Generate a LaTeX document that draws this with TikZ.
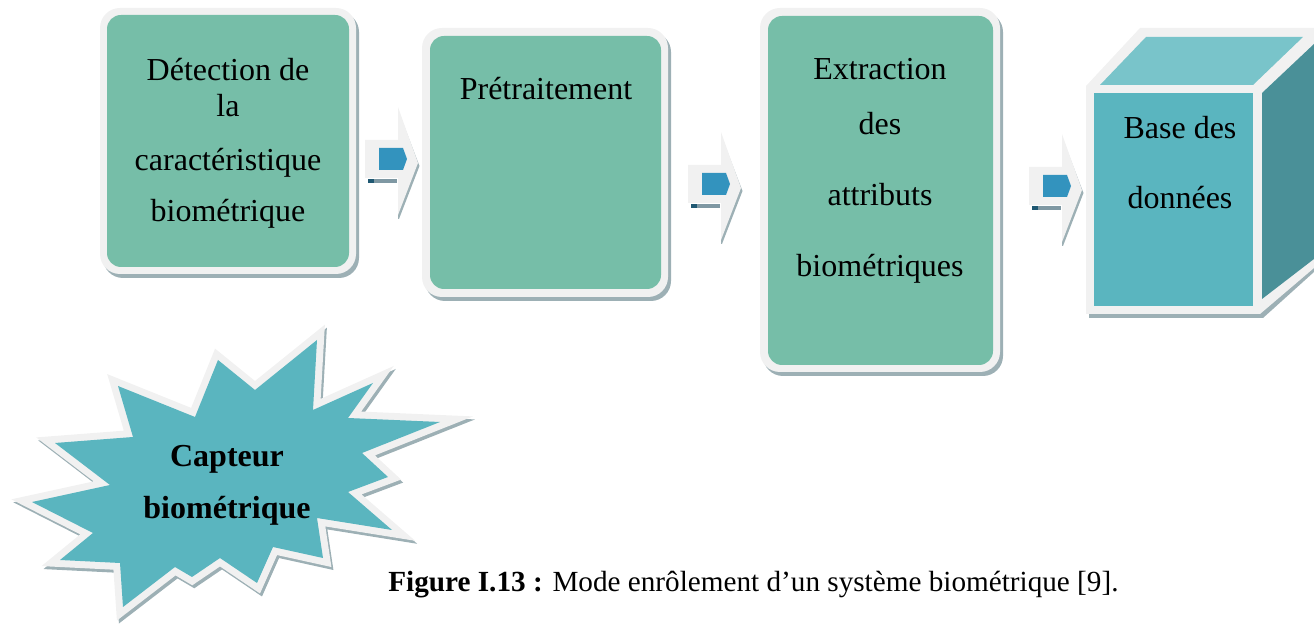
\documentclass[tikz,border=0pt]{standalone}
\usepackage{fontspec}
\setmainfont{Liberation Serif}
\usetikzlibrary{shadows}
\definecolor{boxgreen}{HTML}{76BEA8}
\definecolor{framegray}{HTML}{F1F1F1}
\definecolor{shadowgray}{HTML}{9DB0B5}
\definecolor{tealfill}{HTML}{5AB5BF}
\definecolor{tealtop}{HTML}{79C4CA}
\definecolor{tealside}{HTML}{4A9098}
\definecolor{arrowblue}{HTML}{3393BE}
\definecolor{barcol}{HTML}{7F98A3}
\begin{document}
\begin{tikzpicture}[x=0.5pt,y=-0.5pt,
  frame/.style={fill=framegray, inner sep=0, rounded corners=10pt,
    drop shadow={shadow xshift=1.5pt, shadow yshift=-2pt, fill=shadowgray, opacity=1}},
  inside/.style={fill=boxgreen, inner sep=0, rounded corners=7pt},
  lbl/.style={anchor=base, inner sep=0, font=\fontsize{16}{19}\selectfont},
  blbl/.style={lbl, font=\fontsize{16}{19}\selectfont\bfseries},
  blockarrow/.pic={
    \fill[shadowgray] (-20,-53) -- (1.5,3) -- (-19,56) -- (-20,56) -- cycle;
    \fill[framegray] (-53,-23) -- (-20,-23) -- (-20,-56) -- (0,0) -- (-20,52)
      -- (-20,15) -- (-53,15) -- cycle;
    \fill[barcol] (-50,16) rectangle (-21,20);
    \fill[arrowblue!60!black] (-50,16) rectangle (-44,20);
    \fill[arrowblue] (-39,-15) -- (-15,-15) -- (-11,-4) -- (-15,7) -- (-39,7) -- cycle;
  }]
\useasboundingbox (0,0) rectangle (1314,624);

% processing stages
\node[frame, minimum width=128pt, minimum height=133pt] (s1) at (228,141) {};
\node[inside, minimum width=121pt, minimum height=126pt] (s1in) at (228,141) {};
\node[frame, minimum width=123pt, minimum height=134.5pt] (s2) at (545,162.5) {};
\node[inside, minimum width=115.5pt, minimum height=126.5pt] (s2in) at (545.5,162.5) {};
\node[frame, minimum width=120pt, minimum height=182pt] (s3) at (880,190) {};
\node[inside, minimum width=112.5pt, minimum height=174.5pt] (s3in) at (880.5,190.5) {};

\node[lbl] (t1a) at (228,81) {Détection de};
\node[lbl] (t1b) at (228,117) {la};
\node[lbl] (t1c) at (228,171) {caractéristique};
\node[lbl] (t1d) at (228,222) {biométrique};
\node[lbl] (t2a) at (546,100) {Prétraitement};
\node[lbl] (t3a) at (880,80) {Extraction};
\node[lbl] (t3b) at (880,135) {des};
\node[lbl] (t3c) at (880,206) {attributs};
\node[lbl] (t3d) at (880,277) {biométriques};

% database cube
\fill[shadowgray] (1089,90) -- (1143,32) -- (1314,32) -- (1314,272) -- (1263,318) -- (1089,318) -- cycle;
\fill[framegray] (1086,86) -- (1140,28) -- (1314,28) -- (1314,268) -- (1260,314) -- (1086,314) -- cycle;
\node[fill=tealfill, inner sep=0, minimum width=79.5pt, minimum height=106.5pt] (db) at (1173.5,199.5) {};
\fill[tealtop] (1100,85) -- (1253,85) -- (1303,37) -- (1146,37) -- cycle;
\fill[tealside] (1262,93) -- (1314,44) -- (1314,259) -- (1262,299) -- cycle;
\node[lbl] (t4a) at (1180,139) {Base des};
\node[lbl] (t4b) at (1180,209) {données};

% arrows between stages
\pic (a1) at (418,163) {blockarrow};
\pic (a2) at (741,188) {blockarrow};
\pic (a3) at (1082,190) {blockarrow};

% sensor burst
\def\burst{(118,386) -- (195,417) -- (218,360) -- (255,390) -- (317,340) -- (313,410)
  -- (373,383) -- (348,418) -- (440,422) -- (362,453) -- (388,477) -- (348,492)
  -- (392,530) -- (317,518) -- (323,558) -- (273,547) -- (257,583) -- (220,558)
  -- (192,577) -- (175,567) -- (123,607) -- (120,563) -- (60,560) -- (93,533)
  -- (32,502) -- (110,485) -- (55,443) -- (133,437) -- cycle}
\begin{scope}[line join=miter, miter limit=10]
  \draw[shadowgray, line width=7pt, shift={(2,3)}] \burst;
  \draw[framegray, line width=7pt] \burst;
  \fill[tealfill] \burst;
\end{scope}
\node[blbl] (c1) at (227,467) {Capteur};
\node[blbl] (c2) at (227,519) {biométrique};

% caption
\node[anchor=base west, inner sep=0, font=\fontsize{14.6}{17}\selectfont] (cap) at (388,592)
  {\textbf{Figure I.13 :} Mode enrôlement d’un système biométrique [9].};
\end{tikzpicture}
\end{document}
